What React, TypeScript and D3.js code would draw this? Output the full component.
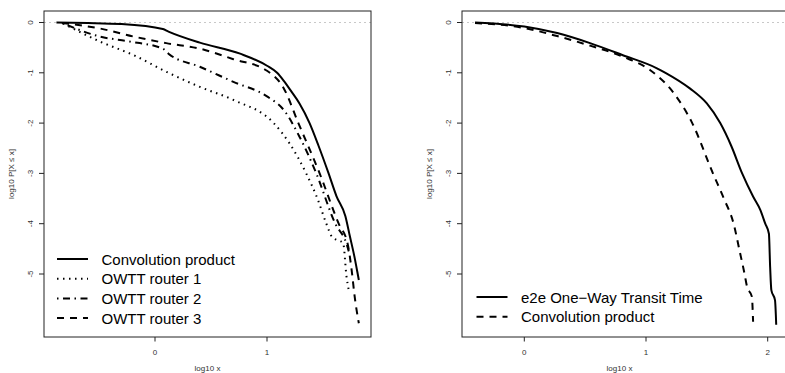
import React from "react";
import * as d3 from "d3";

// ---------- Data (log10 x, log10 P[X >= x]) ----------
const convLX = [-0.88, -0.6, -0.31, 0.07, 0.12, 0.4, 0.76, 1.0, 1.09, 1.15, 1.22, 1.29, 1.38, 1.46, 1.55, 1.62, 1.7, 1.74, 1.78, 1.81, 1.82];
const convLY = [0, -0.01, -0.03, -0.13, -0.18, -0.4, -0.62, -0.86, -1.0, -1.16, -1.38, -1.61, -2.0, -2.45, -3.0, -3.45, -3.85, -4.25, -4.65, -5.0, -5.12];

const r1X = [-0.82, -0.49, -0.19, 0.12, 0.4, 0.7, 1.06, 1.2, 1.35, 1.45, 1.53, 1.58, 1.68, 1.71, 1.73];
const r1Y = [-0.02, -0.38, -0.65, -1.0, -1.28, -1.54, -2.0, -2.4, -3.0, -3.5, -4.0, -4.26, -4.39, -5.05, -5.32];

const r2X = [-0.83, -0.49, -0.22, 0.07, 0.12, 0.4, 0.7, 1.0, 1.15, 1.29, 1.44, 1.61, 1.71, 1.73];
const r2Y = [-0.01, -0.28, -0.38, -0.52, -0.62, -0.88, -1.18, -1.47, -1.74, -2.27, -3.0, -4.0, -4.4, -4.55];

const r3X = [-0.83, -0.49, -0.19, 0.1, 0.4, 0.7, 1.0, 1.15, 1.28, 1.47, 1.64, 1.72, 1.76, 1.78, 1.82];
const r3Y = [-0.01, -0.12, -0.28, -0.41, -0.52, -0.73, -0.96, -1.31, -2.0, -3.0, -4.0, -4.4, -5.0, -5.4, -5.98];

const e2eX = [-0.405, 0, 0.27, 0.54, 0.81, 1.09, 1.16, 1.36, 1.5, 1.61, 1.7, 1.79, 1.88, 1.94, 1.98, 2.01, 2.02, 2.03, 2.06, 2.07];
const e2eY = [0, -0.08, -0.21, -0.41, -0.65, -0.91, -1.0, -1.31, -1.61, -2.0, -2.45, -3.0, -3.46, -3.73, -4.0, -4.2, -4.86, -5.32, -5.52, -6.01];

const convRX = [-0.405, 0, 0.27, 0.54, 0.81, 1.03, 1.23, 1.38, 1.55, 1.64, 1.72, 1.77, 1.81, 1.83, 1.87, 1.88];
const convRY = [-0.01, -0.11, -0.27, -0.46, -0.68, -0.94, -1.41, -2.0, -3.0, -3.5, -4.0, -4.55, -5.0, -5.25, -5.45, -5.95];

const yTicks = [0, -1, -2, -3, -4, -5];
const xTicksLeft = [0, 1];
const xTicksRight = [0, 1, 2];

const leftLegend = ["Convolution product", "OWTT router 1", "OWTT router 2", "OWTT router 3"];
const rightLegend = ["e2e One\u2212Way Transit Time", "Convolution product"];

// ---------- Styles ----------
const SOLID = "none";
const DOTTED = "1.5,4.5";
const DOTDASH = "1.5,4.5,7,4.5";
const DASHED = "7,6";
const FONT = "'Liberation Sans', Arial, Helvetica, sans-serif";

type Panel = {
  id: string;
  box: [number, number, number, number];
  x: d3.ScaleLinear<number, number>;
  y: d3.ScaleLinear<number, number>;
  xTicks: number[];
  series: { xs: number[]; ys: number[]; dash: string }[];
  legend: { labels: string[]; dashes: string[]; x0: number; y0: number };
};

const yScale = d3.scaleLinear().domain([0, -5]).range([22.5, 274]);

const panels: Panel[] = [
  {
    id: "L",
    box: [44, 11, 371, 337],
    x: d3.scaleLinear().domain([0, 1]).range([155, 267]),
    y: yScale,
    xTicks: xTicksLeft,
    series: [
      { xs: convLX, ys: convLY, dash: SOLID },
      { xs: r1X, ys: r1Y, dash: DOTTED },
      { xs: r2X, ys: r2Y, dash: DOTDASH },
      { xs: r3X, ys: r3Y, dash: DASHED },
    ],
    legend: { labels: leftLegend, dashes: [SOLID, DOTTED, DOTDASH, DASHED], x0: 57, y0: 259 },
  },
  {
    id: "R",
    box: [462, 11, 789, 337],
    x: d3.scaleLinear().domain([0, 2]).range([524.3, 767.7]),
    y: yScale,
    xTicks: xTicksRight,
    series: [
      { xs: e2eX, ys: e2eY, dash: SOLID },
      { xs: convRX, ys: convRY, dash: DASHED },
    ],
    legend: { labels: rightLegend, dashes: [SOLID, DASHED], x0: 476.5, y0: 297 },
  },
];

function PanelView({ p }: { p: Panel }) {
  const [bx0, by0, bx1, by1] = p.box;
  const line = d3
    .line<[number, number]>()
    .x((d) => p.x(d[0]))
    .y((d) => p.y(d[1]))
    .curve(d3.curveMonotoneX);
  const cx = (bx0 + bx1) / 2;
  const rightVisible = Math.min(bx1, 785);
  return (
    <g>
      <defs>
        <clipPath id={`clip${p.id}`}>
          <rect x={bx0} y={by0} width={bx1 - bx0} height={by1 - by0} />
        </clipPath>
      </defs>
      <line
        x1={bx0}
        x2={bx1}
        y1={p.y(0)}
        y2={p.y(0)}
        stroke="#c8c8c8"
        strokeWidth={1}
        strokeDasharray="2,3"
      />
      <g clipPath={`url(#clip${p.id})`}>
        {p.series.map((s, i) => (
          <path
            key={i}
            d={line(s.xs.map((v, j) => [v, s.ys[j]] as [number, number])) || ""}
            fill="none"
            stroke="#000"
            strokeWidth={2}
            strokeDasharray={s.dash === SOLID ? undefined : s.dash}
            strokeLinecap="butt"
            strokeLinejoin="round"
          />
        ))}
      </g>
      {p.legend.labels.map((lab, i) => {
        const yy = p.legend.y0 + i * 19.7;
        const d = p.legend.dashes[i];
        return (
          <g key={lab}>
            <line
              x1={p.legend.x0}
              x2={p.legend.x0 + 31}
              y1={yy}
              y2={yy}
              stroke="#000"
              strokeWidth={2}
              strokeDasharray={d === SOLID ? undefined : d}
            />
            <text
              x={p.legend.x0 + 44.5}
              y={yy}
              dominantBaseline="central"
              fontSize={15}
              fontFamily={FONT}
              fill="#000"
            >
              {lab}
            </text>
          </g>
        );
      })}
      <rect x={bx0} y={by0} width={bx1 - bx0} height={by1 - by0} fill="none" stroke="#222" strokeWidth={1} />
      {yTicks.map((t) => (
        <g key={t}>
          <line x1={bx0 - 5} x2={bx0} y1={p.y(t)} y2={p.y(t)} stroke="#222" strokeWidth={1} />
          <text
            transform={`translate(${bx0 - 11},${p.y(t)}) rotate(-90)`}
            textAnchor="middle"
            fontSize={8}
            fontFamily={FONT}
            fill="#333"
          >
            {String(t)}
          </text>
        </g>
      ))}
      <text
        transform={`translate(${bx0 - 30},${(by0 + by1) / 2}) rotate(-90)`}
        textAnchor="middle"
        fontSize={8}
        fontFamily={FONT}
        fill="#333"
      >
        log10 P[X ≤ x]
      </text>
      {p.xTicks.map((t) => (
        <g key={t}>
          <line x1={p.x(t)} x2={p.x(t)} y1={by1} y2={by1 + 4.5} stroke="#222" strokeWidth={1} />
          <text x={p.x(t)} y={by1 + 18} textAnchor="middle" fontSize={8} fontFamily={FONT} fill="#333">
            {String(t)}
          </text>
        </g>
      ))}
      <text
        x={p.id === "L" ? cx : (bx0 + rightVisible) / 2 - 4}
        y={371}
        textAnchor="middle"
        fontSize={8}
        fontFamily={FONT}
        fill="#333"
      >
        log10 x
      </text>
    </g>
  );
}

export default function App() {
  return (
    <svg
      width={785}
      height={373}
      style={{ position: "absolute", left: 0, top: 0, background: "#fff" }}
    >
      <rect width={785} height={373} fill="#fff" />
      {panels.map((p) => (
        <PanelView key={p.id} p={p} />
      ))}
    </svg>
  );
}
